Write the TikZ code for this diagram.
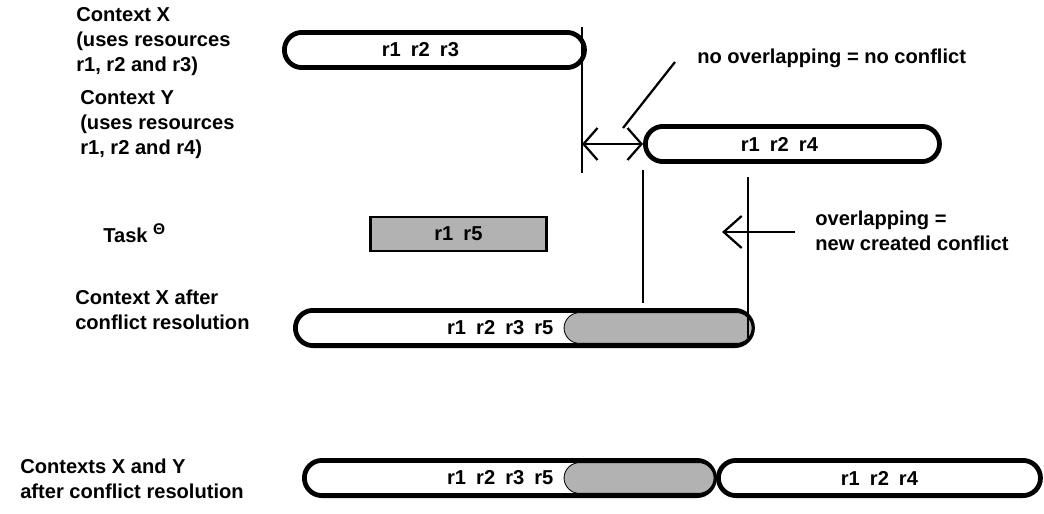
\documentclass[tikz,border=0pt]{standalone}
\usepackage{fontspec}
\setmainfont{Liberation Sans}
\usetikzlibrary{arrows.meta}

\begin{document}
\begin{tikzpicture}[x=0.025cm, y=-0.025cm,
	every node/.style={font=\fontsize{14.3}{17.8}\selectfont\bfseries},
	labelnode/.style={anchor=west, align=left, inner sep=0pt},
	barnode/.style={rectangle, draw, fill=white, line width=3.4pt, rounded corners=4.4mm, minimum height=8.8mm, inner sep=0pt, anchor=west},
	segnode/.style={rectangle, draw, fill=black!30, line width=0.6pt, rounded corners=3.9mm, minimum height=7.7mm, inner sep=0pt, anchor=east},
	tasknode/.style={rectangle, draw, fill=black!30, line width=2pt, minimum height=8.5mm, inner sep=0pt, anchor=west},
	markline/.style={line width=1.6pt},
	barb/.style={line width=1.6pt, -{Straight Barb[length=4.5mm, width=8mm]}},
	dblbarb/.style={line width=1.6pt, {Straight Barb[length=3.5mm, width=8mm]}-{Straight Barb[length=3.5mm, width=8mm]}},
	]
	\useasboundingbox (0,0) rectangle (1044,513);
	
	%Labels
	\node[labelnode] (ctxXlab)  at (76,42)  {Context X\\(uses resources\\r1, r2 and r3)};
	\node[labelnode] (ctxYlab)  at (80,125) {Context Y\\(uses resources\\r1, r2 and r4)};
	\node[labelnode] (tasklab)  at (103,233) {Task \raisebox{0.7ex}{\fontsize{11}{11}\selectfont Θ}};
	\node[labelnode] (afterlab) at (75,310)  {Context X after\\conflict resolution};
	\node[labelnode] (bothlab)  at (20,479)  {Contexts X and Y\\after conflict resolution};
	\node[labelnode] (notext)   at (697,58)  {no overlapping = no conflict};
	\node[labelnode] (ovltext)  at (815,231) {overlapping =\\new created conflict};
	
	%Bars
	\node[barnode, minimum width=7.5cm]    (ctxX)   at (282,50)  {r1\enspace r2\enspace r3\rule{0.7cm}{0pt}};
	\node[barnode, minimum width=7.35cm]   (ctxY)   at (643,144) {r1\enspace r2\enspace r4\rule{0.65cm}{0pt}};
	\node[tasknode, minimum width=4.4cm]   (task)   at (369,234) {r1\enspace r5};
	\node[barnode, minimum width=11.425cm] (xafter) at (293,328) {};
	\node[segnode, minimum width=4.7cm]    (xaseg)  at ([xshift=-1.7pt]xafter.east) {};
	\node[anchor=east, inner sep=0pt]      (xatext) at ([xshift=-0.25cm]xaseg.west) {r1\enspace r2\enspace r3\enspace r5};
	\node[barnode, minimum width=10.25cm]  (xboth)  at (302,478) {};
	\node[segnode, minimum width=3.75cm]   (xbseg)  at ([xshift=-1.7pt]xboth.east) {};
	\node[anchor=east, inner sep=0pt]      (xbtext) at ([xshift=-0.25cm]xbseg.west) {r1\enspace r2\enspace r3\enspace r5};
	\node[barnode, minimum width=8.05cm]   (yboth)  at (716,478) {r1\enspace r2\enspace r4};
	
	%Lines
	\coordinate (xendtop) at (582,27);
	\coordinate (xendbot) at (582,173);
	\coordinate (ybegtop) at (643,170);
	\coordinate (ybegbot) at (643,303);
	\coordinate (yendtop) at (748,177);
	\coordinate (yendbot) at (748,338);
	\coordinate (noleader) at (675,62);
	\coordinate (noprong) at (623,128);
	\coordinate (ovlstart) at (795,232);
	\coordinate (ovltip) at (722,232);
	
	\draw[markline] (xendtop) -- (xendbot);
	\draw[markline] (ybegtop) -- (ybegbot);
	\draw[markline] (yendtop) -- (yendbot);
	\draw[dblbarb] (xendbot |- ctxY.west) -- (ctxY.west);
	\draw[markline] (noleader) -- (noprong);
	\draw[barb] (ovlstart) -- (ovltip);
	
\end{tikzpicture}
\end{document}
